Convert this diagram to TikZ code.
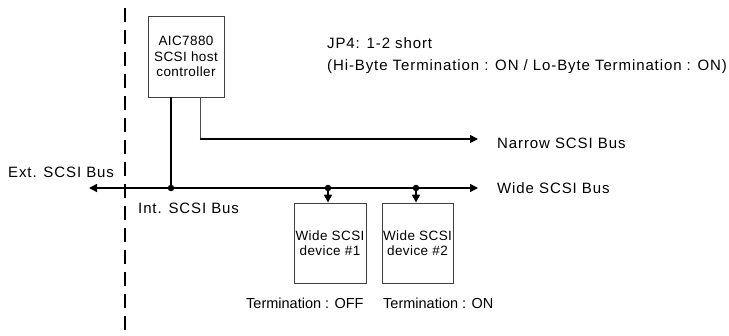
\documentclass[tikz,border=0pt]{standalone}
\usepackage{fontspec}
\setmainfont{Liberation Sans}
\usetikzlibrary{arrows.meta}
\tikzset{
  lbl/.style={anchor=west, inner sep=0pt, font=\fontsize{15}{18}\selectfont\addfontfeature{LetterSpace=6}},
  termlbl/.style={anchor=west, inner sep=0pt, font=\fontsize{14.5}{18}\selectfont},
  boxnode/.style={draw=black!75, line width=0.9pt, inner sep=0pt, align=center,
     font=\fontsize{13.5}{15.5}\selectfont\addfontfeature{LetterSpace=3}},
  bus/.style={line width=1.5pt, draw=black},
  tip/.style={-{Triangle[length=8pt,width=8pt]}},
  dot/.style={circle, fill=black, inner sep=0pt, minimum size=6.5pt},
}
\begin{document}
\begin{tikzpicture}[x=1pt,y=-1pt]
\useasboundingbox (0,0) rectangle (729,336);
% dashed boundary
\coordinate (dtop) at (125,8);
\coordinate (dbot) at (125,336);
\draw[line width=1.6pt, dash pattern=on 14pt off 8pt] (dtop) -- (dbot);

% controller
\node[boxnode, minimum width=76pt, minimum height=81pt] (ctrl) at (186,56.5) {AIC7880\\SCSI host\\controller};

% devices
\node[boxnode, minimum width=72pt, minimum height=80pt] (dev1) at (330,243) {Wide SCSI\\device \#1};
\node[boxnode, minimum width=71pt, minimum height=80pt] (dev2) at (417.5,243) {Wide SCSI\\device \#2};

% bus points
\node[dot] (d0) at (171,188) {};
\node[dot] (d1) at (328,188) {};
\node[dot] (d2) at (416,188) {};
\coordinate (extend) at (89,188);
\coordinate (wideend) at (478,188);
\coordinate (nbend) at (200,139);
\coordinate (nend) at (478,139);
\coordinate (ctrlA) at (171,97);
\coordinate (ctrlB) at (200,97);

% wide bus
\draw[bus, {Triangle[length=8pt,width=8pt]}-{Triangle[length=8pt,width=8pt]}] (extend) -- (wideend);
% controller to bus
\draw[bus] (ctrlA) -- (d0.center);
% narrow bus
\draw[line width=1pt, black!70] (ctrlB) -- (nbend);
\draw[bus, tip] ([xshift=-0.5pt]nbend) -- (nend);
% device drops
\draw[bus, tip] (d1.center) -- (d1.center |- dev1.north);
\draw[bus, tip] (d2.center) -- (d2.center |- dev2.north);

% labels
\node[lbl] (jp1) at (327,43) {JP4: 1-2 short};
\node[lbl] (jp2) at (327,67) {(Hi-Byte Termination : ON / Lo-Byte Termination : ON)};
\node[lbl] (lnarrow) at (497,143) {Narrow SCSI Bus};
\node[lbl] (lwide) at (497,188) {Wide SCSI Bus};
\node[lbl] (lext) at (8,172) {Ext. SCSI Bus};
\node[lbl] (lint) at (138,208) {Int. SCSI Bus};
\node[termlbl] (t1) at (246,303) {Termination : OFF};
\node[termlbl] (t2) at (383,303) {Termination : ON};
\end{tikzpicture}
\end{document}
